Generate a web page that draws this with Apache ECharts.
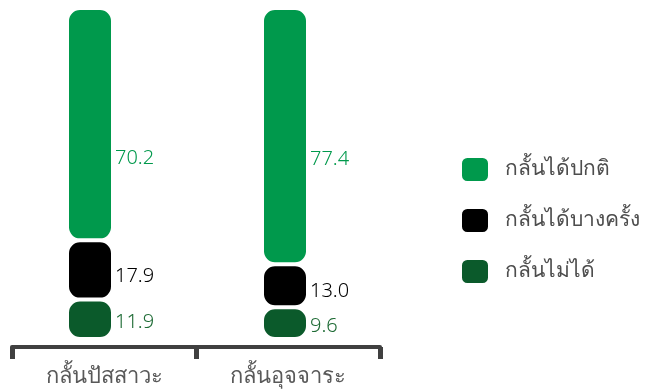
<!DOCTYPE html>
<html>
<head>
<meta charset="utf-8">
<script src="https://cdn.jsdelivr.net/npm/echarts@6/dist/echarts.min.js"></script>
<style>
  html, body { margin: 0; padding: 0; background: #ffffff; }
  #chart { width: 647px; height: 392px; }
</style>
</head>
<body>
<div id="chart"></div>
<script>
// Categories and series values (percent)
const categories = ['กลั้นปัสสาวะ', 'กลั้นอุจจาระ'];
const seriesNames = ['กลั้นได้ปกติ', 'กลั้นได้บางครั้ง', 'กลั้นไม่ได้'];
const normalValues = [70.2, 77.4];
const sometimesValues = [17.9, 13.0];
const unableValues = [11.9, 9.6];

const colors = {
  normal: '#00994C',
  sometimes: '#000000',
  unable: '#0B5A2B'
};

const FONT = '"Noto Sans", "Open Sans", sans-serif';

// labelShift: vertical nudge of each bar's value label, per category
function segment(name, values, color, labelColor, labelShift) {
  return {
    name: name,
    type: 'bar',
    stack: 'total',
    xAxisIndex: 0,
    yAxisIndex: 0,
    barWidth: 46,
    data: values.map((v, i) => ({
      value: v,
      label: { offset: [0, labelShift ? labelShift[i] : 0] }
    })),
    itemStyle: {
      color: color,
      borderColor: '#ffffff',
      borderWidth: 2,
      borderRadius: 12
    },
    label: {
      show: true,
      position: 'right',
      distance: 2,
      color: labelColor,
      fontFamily: FONT,
      fontWeight: 300,
      fontSize: 20,
      formatter: p => p.value.toFixed(1)
    }
  };
}

const chart = echarts.init(document.getElementById('chart'), null, { renderer: 'canvas' });
chart.setOption({
  animation: false,
  backgroundColor: '#ffffff',
  legend: {
    data: seriesNames,
    orient: 'vertical',
    left: 460,
    top: 156,
    padding: 0,
    itemWidth: 28,
    itemHeight: 25,
    itemGap: 24,
    icon: 'roundRect',
    textStyle: {
      color: '#4d4d4d',
      fontFamily: FONT,
      fontWeight: 300,
      fontSize: 21,
      padding: [0, 0, 0, 11]
    }
  },
  grid: [
    // bars sit on the category ticks (boundaryGap off)
    { left: 90, width: 195, top: 8, bottom: 53 },
    { left: 12, width: 368, top: 8, bottom: 45 }
  ],
  xAxis: [
    {
      type: 'category',
      gridIndex: 0,
      data: categories,
      boundaryGap: false,
      show: false
    },
    {
      type: 'category',
      gridIndex: 1,
      data: categories,
      axisLine: { lineStyle: { color: '#404040', width: 4 } },
      axisTick: { show: true, length: 12, lineStyle: { color: '#404040', width: 5 } },
      axisLabel: {
        color: '#595959',
        fontFamily: FONT,
        fontWeight: 300,
        fontSize: 22,
        margin: 19
      }
    }
  ],
  yAxis: [
    { type: 'value', gridIndex: 0, min: 0, max: 100, show: false },
    { type: 'value', gridIndex: 1, min: 0, max: 100, show: false }
  ],
  series: [
    segment(seriesNames[2], unableValues, colors.unable, '#1E6B35', [3, 3]),
    segment(seriesNames[1], sometimesValues, colors.sometimes, '#000000', [6, 6]),
    segment(seriesNames[0], normalValues, colors.normal, colors.normal, [34, 23])
  ]
});
</script>
</body>
</html>
